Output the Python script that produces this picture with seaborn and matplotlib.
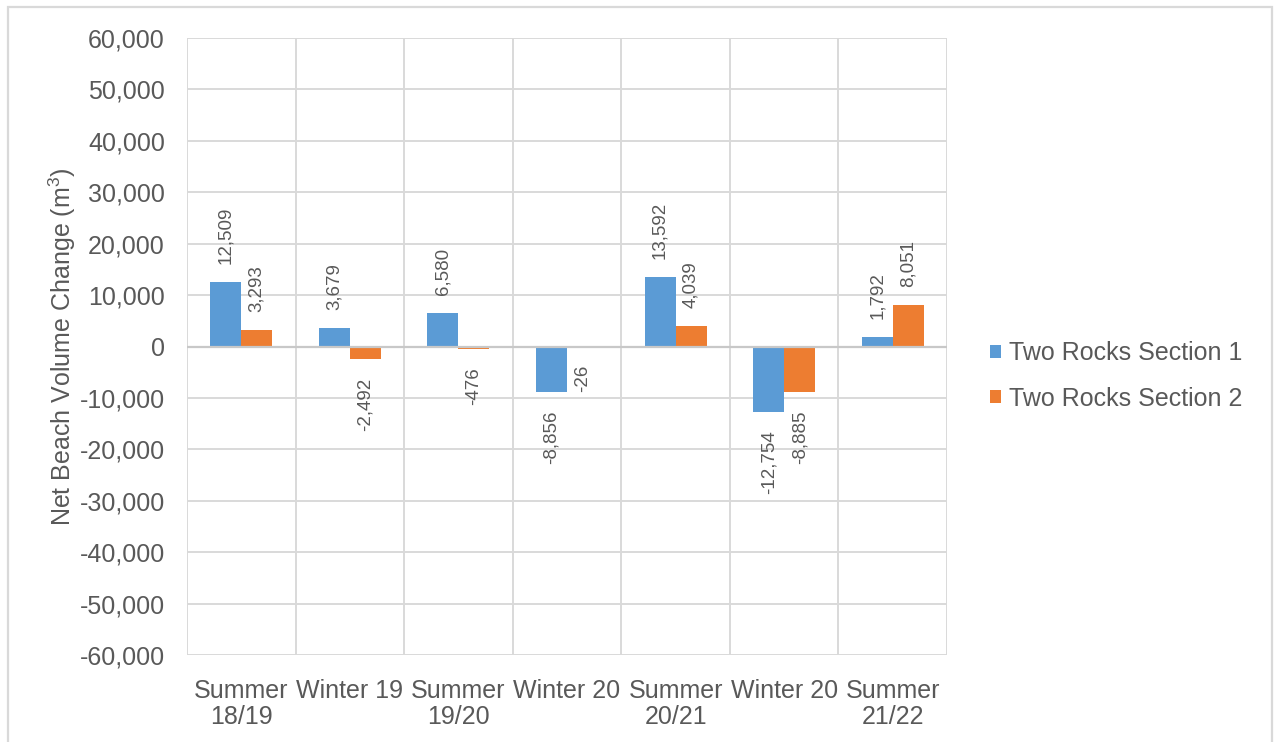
import matplotlib
matplotlib.use("Agg")
import matplotlib.pyplot as plt
from matplotlib.patches import Rectangle
import seaborn as sns
import pandas as pd

# Survey periods and net volume change per section (m^3)
periods = ["Summer\n18/19", "Winter 19", "Summer\n19/20", "Winter 20",
           "Summer\n20/21", "Winter 20", "Summer\n21/22"]
period_keys = [f"{i}" for i in range(len(periods))]
section_1 = [12509, 3679, 6580, -8856, 13592, -12754, 1792]
section_2 = [3293, -2492, -476, -26, 4039, -8885, 8051]
series_names = ["Two Rocks Section 1", "Two Rocks Section 2"]
series_colors = ["#5B9BD5", "#ED7D31"]
y_ticks = list(range(-60000, 60001, 10000))

df = pd.DataFrame({
    "period": period_keys * 2,
    "change": section_1 + section_2,
    "series": [series_names[0]] * len(periods) + [series_names[1]] * len(periods),
})

sns.set_theme(style="white")
plt.rcParams["font.family"] = ["Liberation Sans", "DejaVu Sans"]
plt.rcParams["mathtext.default"] = "regular"

text_grey = "#595959"
grid_grey = "#D9D9D9"

fig = plt.figure(figsize=(12.74, 7.42), dpi=100)
ax = fig.add_axes([187 / 1274, 1 - 655 / 742, (947 - 187) / 1274, (655 - 38) / 742])

sns.barplot(data=df, x="period", y="change", hue="series", order=period_keys,
            hue_order=series_names, palette=series_colors, width=0.571,
            saturation=1, ax=ax, legend=True, linewidth=0)

ax.set_ylim(-60000, 60000)
ax.set_xlim(-0.5, len(periods) - 0.5)
ax.set_yticks(y_ticks)
ax.set_yticklabels([f"{v:,}" for v in y_ticks])
ax.set_xticks(range(len(periods)))
ax.set_xticklabels(periods, linespacing=1.15)

# horizontal grid at ticks, vertical grid at category boundaries
for v in y_ticks:
    ax.axhline(v, color=grid_grey, lw=1.4, zorder=0)
for b in range(len(periods) + 1):
    ax.axvline(b - 0.5, color=grid_grey, lw=1.4, zorder=0)
ax.axhline(0, color="#C8C8C8", lw=1.6, zorder=3)

for s in ax.spines.values():
    s.set_visible(False)

ax.tick_params(axis="y", length=0, pad=16, labelsize=18, labelcolor=text_grey)
ax.tick_params(axis="x", length=0, pad=17, labelsize=18, labelcolor=text_grey)
ax.set_xlabel("")
ax.set_ylabel("Net Beach Volume Change (m$^{3}$)", fontsize=18, color=text_grey,
              labelpad=1)

# rotated value labels at the outer end of each bar
for container in ax.containers:
    for bar in container:
        val = bar.get_y() if bar.get_y() < 0 else bar.get_height()
        x = bar.get_x() + bar.get_width() / 2
        if val >= 0:
            ax.annotate(f"{int(round(val)):,}", (x, val), xytext=(0, 13),
                        textcoords="offset points", rotation=90, ha="center",
                        va="bottom", fontsize=13.5, color=text_grey)
        else:
            ax.annotate(f"{int(round(val)):,}", (x, val), xytext=(0, -13),
                        textcoords="offset points", rotation=90, ha="center",
                        va="top", fontsize=13.5, color=text_grey)

leg = ax.legend(loc="center left", bbox_to_anchor=(990 / 1274, 1 - 376 / 742),
                bbox_transform=fig.transFigure, frameon=False, fontsize=18,
                handlelength=0.45, handleheight=0.45, handletextpad=0.3,
                labelspacing=0.85, borderpad=0, borderaxespad=0)
for t in leg.get_texts():
    t.set_color(text_grey)

# outer chart border
fig.patches.append(Rectangle((8 / 1274, -0.05), (1272 - 8) / 1274, 0.05 + 1 - 7 / 742,
                             transform=fig.transFigure, fill=False,
                             edgecolor=grid_grey, lw=1.6))

fig.savefig("out.png", dpi=100, facecolor="white")
